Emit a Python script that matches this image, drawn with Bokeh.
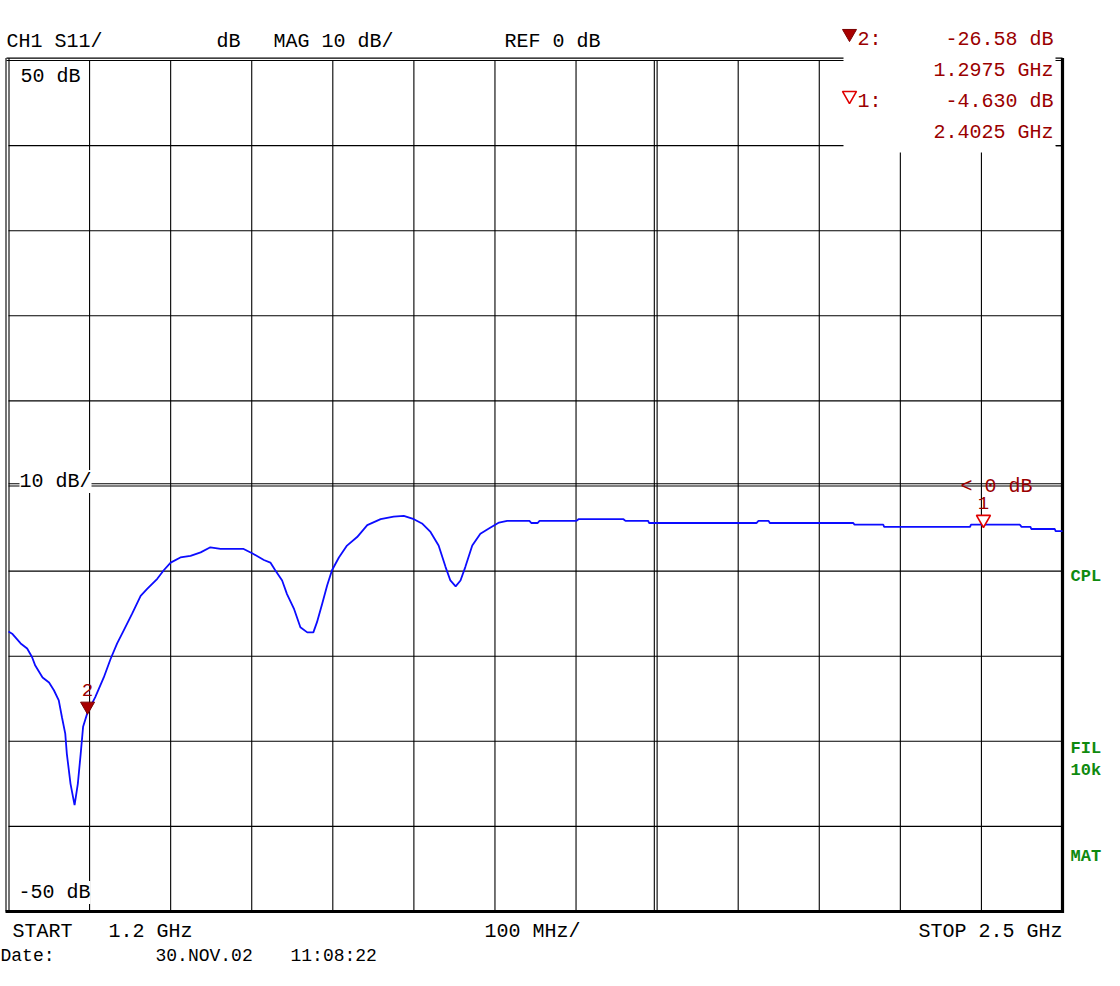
from bokeh.plotting import figure
from bokeh.models import Range1d, Label
from bokeh.embed import file_html
from bokeh.resources import INLINE

# ---------------- data ----------------
FREQ_MHZ = [1200, 1205, 1215, 1223, 1229, 1233, 1242, 1250, 1256, 1262, 1266, 1270, 1272,
            1276.5, 1281.5, 1285.5, 1289, 1292, 1297.5, 1307, 1317.5, 1326, 1334, 1342,
            1352.5, 1363, 1371, 1383.5, 1391.5, 1400, 1412, 1424.5, 1437, 1449, 1461.5,
            1490, 1500.5, 1515, 1523, 1529, 1537.5, 1543.5, 1552, 1560, 1568.5, 1576,
            1580.5, 1587, 1593, 1599, 1607.5, 1617.5, 1630, 1642.5, 1659, 1675, 1687.5,
            1700, 1710, 1720.5, 1730.5, 1739, 1745, 1751.5, 1757.5, 1763.5, 1772, 1782,
            1792.5, 1805, 1815, 1842.5, 1845, 1852.5, 1855, 1900.5, 1903, 1958.5, 1961,
            1989, 1990, 2122.5, 2125, 2137.5, 2139, 2242, 2243.5, 2279, 2280, 2386, 2387,
            2447.5, 2449.5, 2460.5, 2461.5, 2490.5, 2491.5, 2500]
S11_DB = [-17.1, -17.4, -18.5, -19.1, -20.1, -21.1, -22.5, -23.1, -24.0, -25.2, -27.2, -29.1, -31.5,
          -35.0, -37.5, -35.0, -31.5, -28.3, -26.6, -24.8, -22.5, -20.3, -18.5, -17.0,
          -15.0, -12.9, -12.1, -10.9, -9.9, -9.0, -8.4, -8.2, -7.8, -7.2, -7.4,
          -7.4, -7.9, -8.7, -9.0, -9.9, -11.1, -12.7, -14.4, -16.6, -17.2, -17.2,
          -16.0, -13.8, -11.7, -9.9, -8.4, -7.0, -6.0, -4.6, -3.9, -3.6, -3.5,
          -3.9, -4.4, -5.4, -7.0, -9.5, -11.1, -11.8, -11.1, -9.5, -7.0, -5.6,
          -5.0, -4.3, -4.1, -4.1, -4.35, -4.35, -4.1, -4.1, -3.9, -3.9, -4.1,
          -4.1, -4.35, -4.35, -4.1, -4.1, -4.35, -4.35, -4.55, -4.55, -4.8, -4.8, -4.55,
          -4.55, -4.8, -4.8, -5.05, -5.05, -5.3, -5.3]

MARKER_ID = ["2", "1"]
MARKER_MHZ = [1297.5, 2402.5]
MARKER_DB = [-26.58, -4.630]
MARKER_FILLED = [True, False]

START_MHZ, STOP_MHZ = 1200, 2500
TOP_DB, BOTTOM_DB, REF_DB = 50, -50, 0
FREQ_GRID = [1300, 1400, 1500, 1600, 1700, 1800, 1900, 2000, 2100, 2200, 2300, 2400]
DB_GRID = [40, 30, 20, 10, 0, -10, -20, -30, -40]
DOUBLE_FREQ = 2000

HEADER = ["CH1 S11/", "dB", "MAG 10 dB/", "REF 0 dB"]
FOOTER = ["START", "1.2 GHz", "100 MHz/", "STOP 2.5 GHz"]
DATE = ["Date:", "30.NOV.02", "11:08:22"]
SIDE = ["CPL", "FIL", "10k", "MAT"]

# ---------------- layout ----------------
W, H = 1104, 970
PXM = (1062 - 8) / (STOP_MHZ - START_MHZ)   # px per MHz
PXD = (911 - 60) / (TOP_DB - BOTTOM_DB)      # px per dB


def fx(X):  # canvas pixel -> MHz
    return START_MHZ + (X - 8) / PXM


def fy(Y):  # canvas pixel -> dB
    return TOP_DB - (Y - 60) / PXD


FONT = "Liberation Mono"
RED = "#9a0000"
GREEN = "#0f8a0f"

p = figure(width=W, height=H, x_range=Range1d(fx(0), fx(W)), y_range=Range1d(fy(H), fy(0)),
           x_axis_location=None, y_axis_location=None, toolbar_location=None,
           output_backend="svg", min_border=0, outline_line_color=None,
           background_fill_color="white", border_fill_color="white")
p.xgrid.visible = False
p.ygrid.visible = False

# grid lines
n = len(FREQ_GRID)
p.segment(x0=FREQ_GRID, y0=[BOTTOM_DB] * n, x1=FREQ_GRID, y1=[TOP_DB] * n,
          line_color="black", line_width=1.1)
m = len(DB_GRID)
p.segment(x0=[START_MHZ] * m, y0=DB_GRID, x1=[STOP_MHZ] * m, y1=DB_GRID,
          line_color="black", line_width=1.1)
# doubled lines
p.segment(x0=[START_MHZ], y0=[REF_DB + 2.3 / PXD], x1=[STOP_MHZ], y1=[REF_DB + 2.3 / PXD],
          line_color="black", line_width=1.1)
p.segment(x0=[DOUBLE_FREQ - 2.8 / PXM], y0=[BOTTOM_DB], x1=[DOUBLE_FREQ - 2.8 / PXM], y1=[TOP_DB],
          line_color="black", line_width=1.1)

# white marker-readout box
p.quad(left=[fx(843)], right=[fx(1055.5)], bottom=[fy(152)], top=[fy(0)],
       fill_color="white", line_color=None)

# borders
p.segment(x0=[fx(6), fx(6), fx(1055), fx(1055), fx(1055)],
          y0=[TOP_DB, TOP_DB + 2.4 / PXD, TOP_DB, TOP_DB + 2.4 / PXD, 40],
          x1=[fx(843), fx(843), STOP_MHZ, STOP_MHZ, STOP_MHZ],
          y1=[TOP_DB, TOP_DB + 2.4 / PXD, TOP_DB, TOP_DB + 2.4 / PXD, 40],
          line_color="black", line_width=1.1)
p.segment(x0=[fx(5.5), fx(8.5)], y0=[BOTTOM_DB, BOTTOM_DB], x1=[fx(5.5), fx(8.5)],
          y1=[TOP_DB + 2.4 / PXD, TOP_DB + 2.4 / PXD], line_color="black", line_width=1.1)
p.segment(x0=[STOP_MHZ], y0=[BOTTOM_DB - 1.5 / PXD], x1=[STOP_MHZ], y1=[TOP_DB + 2.4 / PXD],
          line_color="black", line_width=3.2)
p.segment(x0=[fx(5)], y0=[BOTTOM_DB], x1=[STOP_MHZ + 1.5 / PXM], y1=[BOTTOM_DB],
          line_color="black", line_width=3.2)

# trace
p.line(FREQ_MHZ, S11_DB, line_color="#0c0cff", line_width=1.8)


def txt(s, X, Y, size=20, color="black", align="left", bold=False, bg=None):
    lab = Label(x=fx(X), y=fy(Y), text=s, text_font=FONT, text_font_size=f"{size}px",
                text_color=color, text_align=align, text_baseline="middle",
                text_font_style="bold" if bold else "normal")
    if bg:
        lab.background_fill_color = bg
    p.add_layout(lab)


# markers on trace and readout
for i, (mid, f, v, filled) in enumerate(zip(MARKER_ID, MARKER_MHZ, MARKER_DB, MARKER_FILLED)):
    tri_y = v + 6 / PXD
    if filled:
        p.scatter([f], [tri_y], marker="inverted_triangle", size=14,
                  fill_color="#a80000", line_color="#7a0000", line_width=1)
    else:
        p.scatter([f], [tri_y], marker="inverted_triangle", size=14,
                  fill_color="white", line_color="#e00000", line_width=1.6)
    p.add_layout(Label(x=f, y=v + 22 / PXD, text=mid, text_font=FONT, text_font_size="19px",
                       text_color=RED, text_align="center", text_baseline="middle"))
    # readout in the top right box
    row_y = 39 + i * 62
    if filled:
        p.scatter([fx(849)], [fy(33)], marker="inverted_triangle", size=14,
                  fill_color="#a80000", line_color="#7a0000", line_width=1)
    else:
        p.scatter([fx(849)], [fy(95)], marker="inverted_triangle", size=14,
                  fill_color="white", line_color="#e00000", line_width=1.6)
    txt(f"{mid}:", 857, row_y, color=RED)
    txt(f"{v:#.4g} dB", 1053, row_y, color=RED, align="right")
    txt(f"{f / 1000:.4f} GHz", 1053, row_y + 31, color=RED, align="right")

# header
for s, X in zip(HEADER, [6, 216, 273, 504]):
    txt(s, X, 41)

# in-grid labels
txt("50 dB", 20, 76)
txt("-50 dB", 18, 892, bg="white")
txt("10 dB/", 19, 481, bg="white")
txt("< 0 dB", 960, 486, color=RED)

# footer
txt(FOOTER[0], 12, 931)
txt(FOOTER[1], 108, 931)
txt(FOOTER[2], 484, 931)
txt(FOOTER[3], 1062, 931, align="right")

# date line
for s, X in zip(DATE, [0, 155, 290]):
    txt(s, X, 955, size=18)

# side status labels
for s, Y in zip(SIDE, [576, 748, 770, 856]):
    txt(s, 1070, Y, size=17, color=GREEN, bold=True)

open("out.html", "w").write(file_html(p, INLINE))
